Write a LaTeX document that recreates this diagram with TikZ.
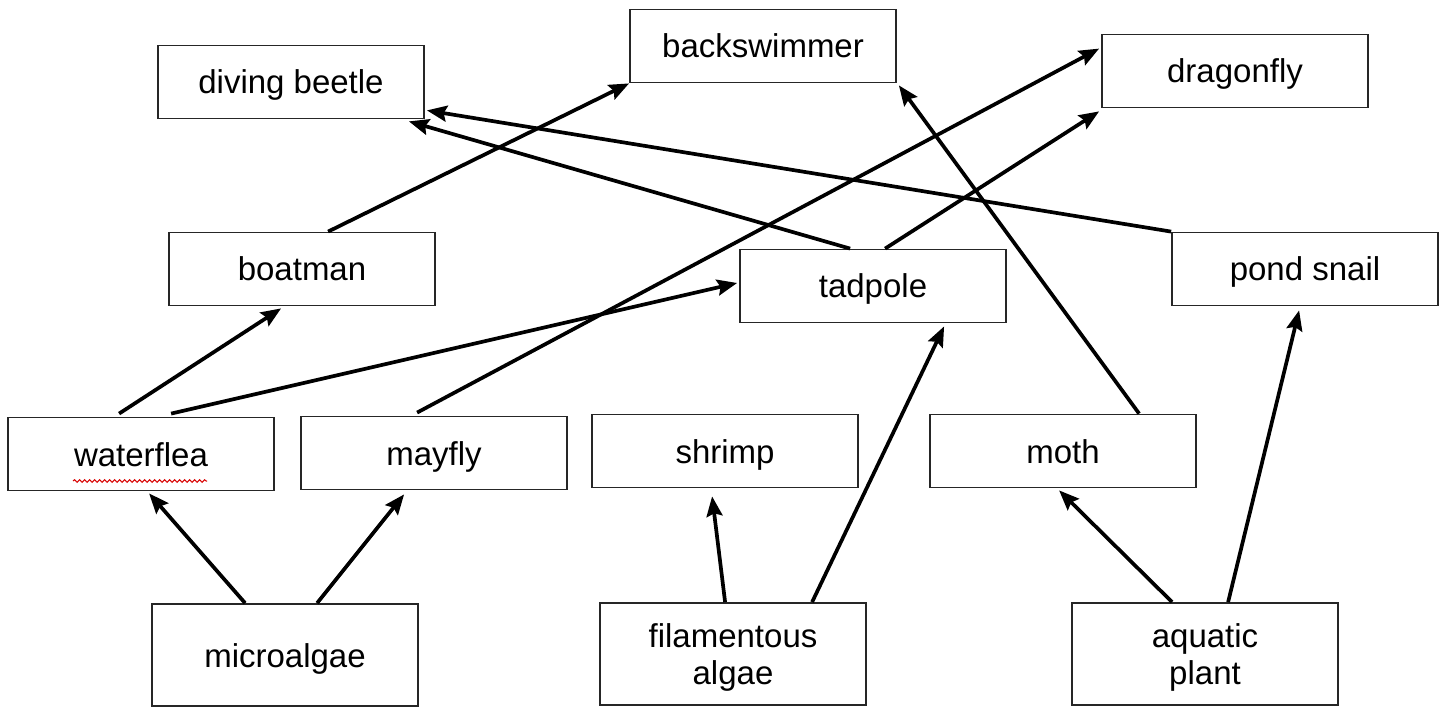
\documentclass[tikz,border=0pt]{standalone}
\usepackage{fontspec}
\setmainfont{Liberation Sans}
\usetikzlibrary{arrows.meta,calc,decorations.pathmorphing}
% two centred lines, baseline on the first one
\newcommand{\twolines}[2]{\vtop{\baselineskip=37pt\halign{\hfil##\hfil\cr#1\cr#2\cr}}}
\begin{document}
\begin{tikzpicture}[x=1pt,y=-1pt,
  box/.style={draw=black!85,line width=1.8pt,minimum width=266pt,minimum height=73pt,
    inner sep=0pt,font=\fontsize{33}{37}\selectfont,fill=white,
    text height=31pt,text depth=7pt},
  tallbox/.style={box,minimum height=102pt},
  twobox/.style={tallbox,text depth=44pt},
  link/.style={line width=3.7pt,-{Stealth[length=20pt,width=16pt,inset=3pt]}}]
\useasboundingbox (0,0) rectangle (1445,708);
% organisms
\node[box] (beetle) at (291,82) {diving beetle};
\node[box] (backsw) at (763,46) {backswimmer};
\node[box] (dragon) at (1235,71) {dragonfly};
\node[box] (boatman) at (302,269) {boatman};
\node[box] (tadpole) at (873,286) {tadpole};
\node[box] (snail) at (1305,269) {pond snail};
\node[box] (flea) at (141,454) {waterflea};
\node[box] (mayfly) at (434,453) {mayfly};
\node[box] (shrimp) at (725,451) {shrimp};
\node[box] (moth) at (1063,451) {moth};
\node[tallbox] (micro) at (285,655) {microalgae};
\node[twobox] (filam) at (733,654) {\twolines{filamentous}{algae}};
\node[twobox] (plant) at (1205,654) {\twolines{aquatic}{plant}};
% spell-check squiggle
\draw[red!85!black,line width=1pt,decorate,decoration={snake,amplitude=1.3pt,segment length=5pt}]
  ($(flea.center)+(-68,27)$) -- ($(flea.center)+(66,27)$);
% feeding links
\draw[link] ($(boatman.north west)+(160,0)$) -- (backsw.south west);
\draw[link] ($(tadpole.north west)+(111,0)$) -- ($(beetle.south east)+(-16,2)$);
\draw[link] ($(tadpole.north west)+(146,0)$) -- ($(dragon.south west)+(-2,3)$);
\draw[link] (snail.north west) -- ($(beetle.south east)+(2,-9)$);
\draw[link] ($(moth.north west)+(210,0)$) -- ($(backsw.south east)+(2,2)$);
\draw[link] ($(flea.north west)+(112,-3)$) -- ($(boatman.south west)+(113,2)$);
\draw[link] ($(flea.north west)+(164,-3)$) -- ($(tadpole.west)+(-2,-3)$);
\draw[link] ($(mayfly.north west)+(117,-3)$) -- ($(dragon.north west)+(-2,15)$);
\draw[link] ($(micro.north west)+(94,0)$) -- ($(flea.south west)+(142,2)$);
\draw[link] ($(micro.north west)+(166,0)$) -- ($(mayfly.south west)+(104,4)$);
\draw[link] ($(filam.north west)+(126,0)$) -- ($(shrimp.south west)+(121,8)$);
\draw[link] ($(filam.north west)+(213,0)$) -- ($(tadpole.south west)+(205,3)$);
\draw[link] ($(plant.north west)+(101,0)$) -- ($(moth.south west)+(130,2)$);
\draw[link] ($(plant.north west)+(157,0)$) -- ($(snail.south west)+(128,4)$);
\end{tikzpicture}
\end{document}
